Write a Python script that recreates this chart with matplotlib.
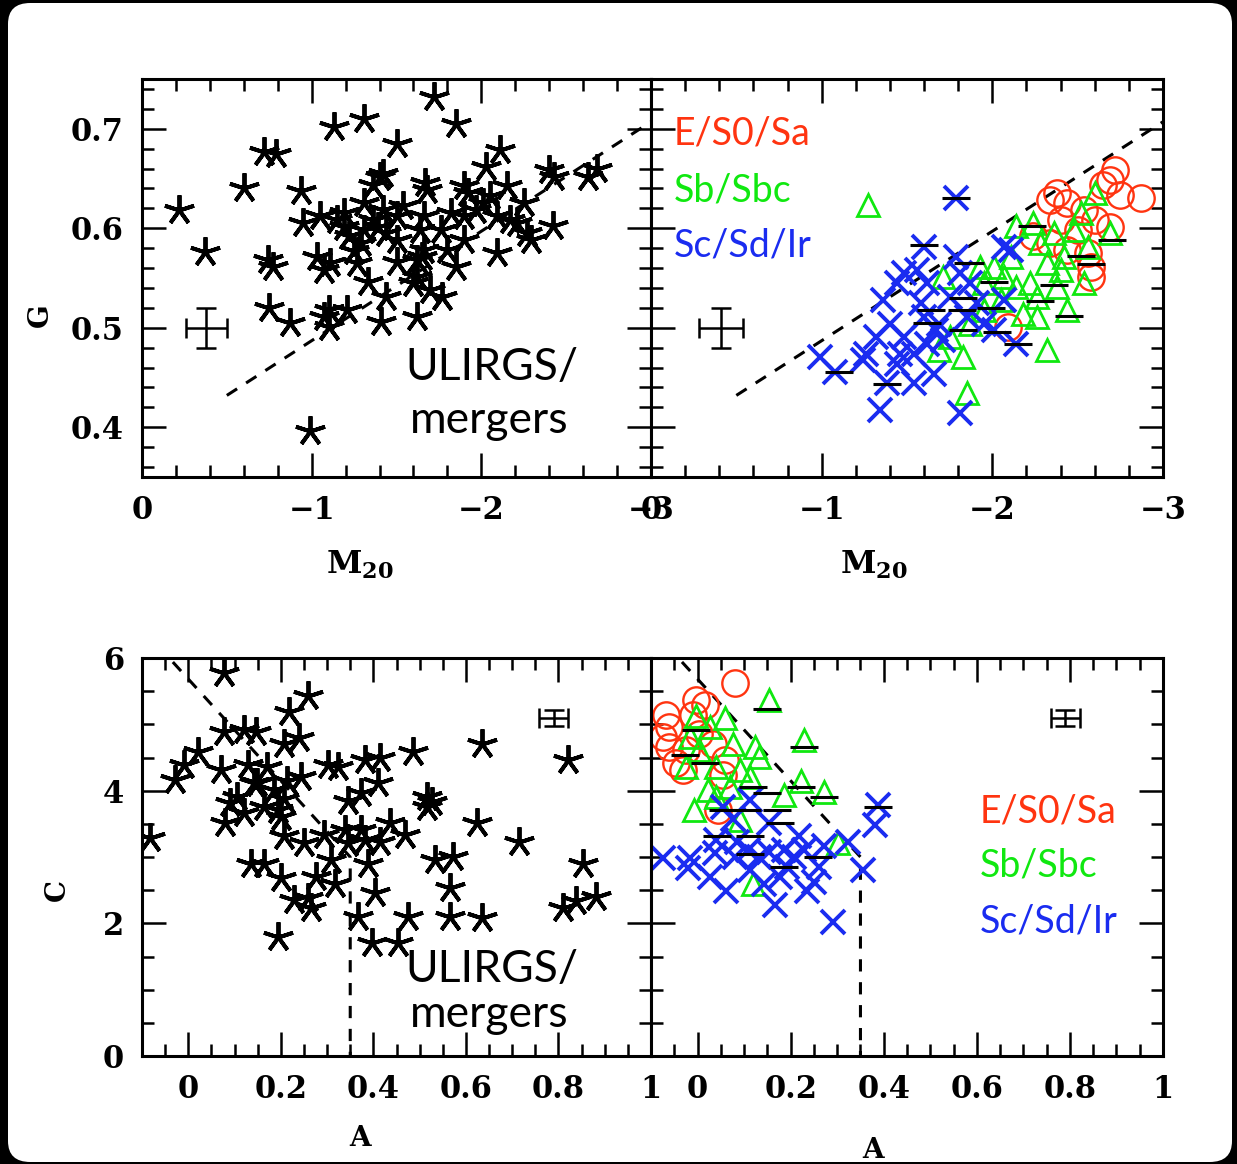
import numpy as np
import matplotlib.pyplot as plt
from matplotlib.ticker import MultipleLocator
from matplotlib.patches import FancyBboxPatch

plt.rcParams['mathtext.fontset'] = 'dejavuserif'

W, H = 1237, 1164

# ---- G vs M20, ULIRGs / mergers (left top)
ulirg_m20 = [-1.72, -1.13, -1.31, -1.85, -1.50, -0.72, -0.79, -2.11, -0.60, -0.22,
             -0.94, -0.37, -0.74, -0.77, -0.75, -0.87, -0.99, -1.10, -1.10, -1.21,
             -1.07, -1.41, -1.62, -1.44, -1.33, -1.77, -1.70, -1.62, -1.85, -1.65,
             -1.66, -1.50, -1.11, -1.03, -0.95, -1.05, -1.19, -1.19, -1.22, -1.29,
             -1.25, -1.36, -1.39, -1.44, -1.50, -1.42, -1.36, -1.42, -1.40, -1.67,
             -1.68, -1.66, -1.64, -1.76, -1.82, -1.90, -1.92, -1.90, -2.01, -2.03,
             -2.09, -2.09, -2.15, -2.17, -2.25, -2.27, -2.29, -2.42, -2.40, -2.43,
             -2.63, -2.68, -1.54, -1.31, -1.07, -1.97, -2.21, -1.80, -1.62, -1.60,
             -1.15, -1.31, -1.90, -1.50, -1.27, -2.05]
ulirg_g = [0.732, 0.702, 0.710, 0.705, 0.685, 0.677, 0.675, 0.679, 0.640, 0.618,
           0.637, 0.576, 0.568, 0.561, 0.520, 0.505, 0.396, 0.518, 0.501, 0.518,
           0.511, 0.506, 0.511, 0.531, 0.546, 0.531, 0.538, 0.551, 0.561, 0.571,
           0.578, 0.566, 0.565, 0.571, 0.605, 0.612, 0.615, 0.601, 0.592, 0.585,
           0.577, 0.608, 0.601, 0.595, 0.588, 0.618, 0.643, 0.655, 0.652, 0.645,
           0.638, 0.612, 0.598, 0.598, 0.615, 0.642, 0.635, 0.588, 0.625, 0.662,
           0.575, 0.612, 0.642, 0.608, 0.625, 0.595, 0.588, 0.602, 0.659, 0.652,
           0.652, 0.660, 0.622, 0.598, 0.558, 0.618, 0.605, 0.578, 0.568, 0.545,
           0.608, 0.625, 0.612, 0.612, 0.565, 0.632]

# ---- G vs M20, local galaxies (right top)
early_m20 = [-2.75, -2.87, -2.69, -2.72, -2.65, -2.38, -2.34, -2.44, -2.54, -2.60,
             -2.69, -2.56, -2.58, -2.58, -2.34, -2.44, -2.09, -2.24, -2.50, -2.40]
early_g = [0.633, 0.630, 0.648, 0.659, 0.643, 0.635, 0.628, 0.625, 0.618, 0.608,
           0.601, 0.575, 0.561, 0.551, 0.585, 0.578, 0.501, 0.592, 0.598, 0.608]
mid_m20 = [-1.27, -2.60, -2.69, -2.32, -1.85, -1.83, -2.44, -2.26, -2.18, -2.05,
           -1.95, -2.01, -2.11, -2.14, -2.24, -2.28, -2.32, -2.40, -2.48, -2.52,
           -2.56, -2.38, -2.22, -2.26, -2.07, -1.95, -1.87, -1.75, -1.71, -1.69,
           -2.42, -2.54, -2.14, -2.36, -1.93]
mid_g = [0.623, 0.635, 0.595, 0.478, 0.434, 0.471, 0.518, 0.511, 0.514, 0.528,
         0.545, 0.561, 0.571, 0.602, 0.605, 0.585, 0.565, 0.558, 0.598, 0.615,
         0.581, 0.541, 0.545, 0.531, 0.551, 0.518, 0.504, 0.491, 0.551, 0.478,
         0.571, 0.545, 0.541, 0.595, 0.561]
late_m20 = [-1.79, -1.60, -0.99, -1.08, -1.34, -1.81, -1.38, -1.54, -1.66, -1.24,
            -1.46, -1.48, -1.40, -1.36, -1.44, -1.48, -1.56, -1.62, -1.58, -1.60,
            -1.69, -1.71, -1.75, -1.81, -1.79, -1.87, -1.91, -1.95, -1.85, -2.07,
            -2.07, -2.11, -2.14, -1.54, -1.44, -1.67, -1.62, -2.01, -1.32, -1.26]
late_g = [0.630, 0.581, 0.471, 0.456, 0.417, 0.414, 0.444, 0.444, 0.454, 0.468,
          0.474, 0.491, 0.504, 0.528, 0.545, 0.555, 0.558, 0.545, 0.525, 0.511,
          0.504, 0.488, 0.531, 0.555, 0.571, 0.545, 0.525, 0.504, 0.511, 0.528,
          0.581, 0.578, 0.484, 0.474, 0.464, 0.498, 0.484, 0.498, 0.491, 0.474]
bar_m20 = [-1.79, -1.60, -1.86, -2.23, -2.70, -2.52, -2.58, -2.36, -2.28, -2.45,
           -2.15, -2.03, -2.01, -1.83, -1.82, -1.99, -1.64, -1.62, -1.83, -1.10,
           -1.38, -1.87]
bar_g = [0.630, 0.583, 0.565, 0.602, 0.588, 0.572, 0.564, 0.543, 0.527, 0.512,
         0.484, 0.496, 0.546, 0.530, 0.518, 0.520, 0.518, 0.505, 0.498, 0.456,
         0.443, 0.565]

# ---- C vs A, ULIRGs / mergers (left bottom)
ulirg_a = [0.077, 0.258, 0.218, 0.077, 0.120, 0.146, 0.207, 0.240, 0.022, -0.010,
           -0.028, -0.083, 0.070, 0.128, 0.171, 0.149, 0.106, 0.080, 0.120, 0.193,
           0.186, 0.214, 0.243, 0.301, 0.323, 0.381, 0.414, 0.486, 0.635, 0.820,
           0.345, 0.374, 0.410, 0.515, 0.526, 0.515, 0.624, 0.714, 0.207, 0.251,
           0.294, 0.338, 0.374, 0.381, 0.436, 0.468, 0.414, 0.388, 0.309, 0.135,
           0.164, 0.200, 0.276, 0.317, 0.229, 0.258, 0.265, 0.403, 0.367, 0.475,
           0.566, 0.635, 0.396, 0.454, 0.193, 0.533, 0.573, 0.566, 0.852, 0.809,
           0.838, 0.881, 0.091, 0.164, 0.200, 0.345, 0.207, 0.142]
ulirg_c = [5.77, 5.42, 5.19, 4.89, 4.91, 4.89, 4.71, 4.79, 4.59, 4.39,
           4.16, 3.28, 4.31, 4.39, 4.36, 4.11, 3.91, 3.51, 3.66, 3.71,
           4.01, 4.14, 4.21, 4.39, 4.36, 4.46, 4.49, 4.59, 4.71, 4.46,
           3.84, 3.96, 4.11, 3.91, 3.83, 3.76, 3.51, 3.23, 3.31, 3.21,
           3.33, 3.41, 3.41, 3.26, 3.51, 3.33, 3.23, 2.90, 2.95, 2.90,
           2.90, 2.68, 2.70, 2.60, 2.35, 2.38, 2.23, 2.45, 2.10, 2.10,
           2.10, 2.08, 1.70, 1.70, 1.80, 2.95, 3.00, 2.53, 2.90, 2.23,
           2.33, 2.40, 3.81, 3.76, 3.61, 3.21, 3.88, 4.11]

# ---- C vs A, local galaxies (right bottom)
early_a = [0.080, -0.068, -0.003, 0.015, -0.061, -0.046, -0.025, -0.075, -0.032, 0.059,
           0.044, 0.033, 0.004, -0.061, -0.010, 0.055]
early_c = [5.62, 5.14, 5.37, 5.29, 4.66, 4.41, 4.61, 4.81, 4.31, 4.46,
           3.71, 4.71, 4.86, 4.96, 5.14, 4.24]
mid_a = [0.153, 0.229, 0.059, -0.003, 0.124, 0.131, 0.222, 0.272, 0.113, 0.120,
         0.186, 0.301, -0.007, 0.070, 0.022, -0.025, 0.040, 0.004, 0.077, 0.026,
         0.091, -0.017, 0.040, 0.091]
mid_c = [5.37, 4.76, 5.09, 5.12, 4.66, 4.51, 4.14, 3.98, 4.21, 2.60,
         3.93, 3.21, 3.71, 4.06, 4.01, 4.36, 4.36, 4.61, 4.71, 4.96,
         3.56, 4.81, 3.91, 4.31]
late_a = [0.388, 0.381, 0.356, 0.291, 0.323, -0.075, -0.021, -0.017, 0.037, 0.026,
          0.062, 0.167, 0.236, 0.251, 0.272, 0.229, 0.207, 0.186, 0.153, 0.131,
          0.109, 0.080, 0.055, 0.077, 0.113, 0.153, 0.113, 0.178, 0.142, 0.084,
          0.040, 0.218, 0.193, 0.262]
late_c = [3.78, 3.48, 2.80, 2.02, 3.23, 2.98, 2.83, 2.98, 3.06, 2.70,
          2.48, 2.28, 2.48, 2.63, 3.16, 3.11, 3.00, 3.11, 3.08, 3.00,
          3.11, 3.00, 3.76, 3.58, 3.86, 3.51, 2.80, 2.70, 2.60, 3.23,
          3.26, 3.31, 2.85, 2.85]
bar_a = [0.149, 0.229, -0.003, -0.028, 0.015, 0.055, 0.120, 0.106, 0.171, 0.178,
         0.272, 0.222, 0.388, 0.041, 0.113, 0.149, 0.258, 0.186, 0.113]
bar_c = [5.23, 4.66, 4.91, 4.54, 4.41, 3.71, 4.06, 3.71, 3.71, 3.51,
         3.91, 4.05, 3.76, 3.31, 3.31, 3.96, 3.00, 2.85, 3.05]

# merger boundaries
gm_line_m20 = [-0.5, -3.0]
gm_line_g = [0.432, 0.707]
ca_line_a = [-0.1, 0.35, 0.35]
ca_line_c = [6.45, 3.0, 0.0]

# typical error bars
gm_err = dict(x=-0.38, y=0.50, xerr=0.123, yerr=0.02)
gm_err2 = dict(x=-0.41, y=0.50, xerr=0.127, yerr=0.02)
ca_err = dict(x=0.79, y=5.09, xerr=0.031, yerr=0.12)

RED = '#ff3410'
GREEN = '#10e810'
BLUE = '#1a2cf0'

fig = plt.figure(figsize=(W / 100, H / 100), dpi=100)
fig.patch.set_facecolor('black')
fig.patches.append(FancyBboxPatch((8 / W, 2 / H), (W - 13) / W, (H - 5) / H,
                                  boxstyle='round,pad=0,rounding_size=0.018',
                                  transform=fig.transFigure, fc='white', ec='none',
                                  zorder=-10))


def px_axes(x0, y0, x1, y1):
    return fig.add_axes([x0 / W, 1 - y1 / H, (x1 - x0) / W, (y1 - y0) / H])


ax1 = px_axes(142, 79, 651, 477)
ax2 = px_axes(651, 79, 1163, 477)
ax3 = px_axes(142, 658, 651, 1056)
ax4 = px_axes(651, 658, 1163, 1056)

tickfont = dict(family='DejaVu Serif', weight='bold', size=22)

for ax in (ax1, ax2, ax3, ax4):
    for s in ax.spines.values():
        s.set_linewidth(2.2)
    ax.tick_params(which='both', direction='in', top=True, right=True, width=1.8)
    ax.tick_params(which='major', length=17, pad=13)
    ax.tick_params(which='minor', length=8.5)

for ax in (ax1, ax2):
    ax.set_xlim(0, -3)
    ax.set_ylim(0.35, 0.75)
    ax.xaxis.set_major_locator(MultipleLocator(1))
    ax.xaxis.set_minor_locator(MultipleLocator(0.2))
    ax.yaxis.set_major_locator(MultipleLocator(0.1))
    ax.yaxis.set_minor_locator(MultipleLocator(0.02))
    ax.set_xticks([0, -1, -2, -3])
    ax.set_xticklabels(['0', '\u22121', '\u22122', '\u22123'], **tickfont)
    ax.plot(gm_line_m20, gm_line_g, color='black', lw=2.2, dashes=(4, 3.5), zorder=1)

for ax in (ax3, ax4):
    ax.set_xlim(-0.1, 1.0)
    ax.set_ylim(0, 6)
    ax.xaxis.set_minor_locator(MultipleLocator(0.05))
    ax.yaxis.set_major_locator(MultipleLocator(2))
    ax.yaxis.set_minor_locator(MultipleLocator(0.5))
    ax.set_xticks([0, 0.2, 0.4, 0.6, 0.8, 1.0])
    ax.set_xticklabels(['0', '0.2', '0.4', '0.6', '0.8', '1'], **tickfont)
    ax.plot(ca_line_a, ca_line_c, color='black', lw=2.2, dashes=(4, 3.5), zorder=1)

ax1.set_yticks([0.4, 0.5, 0.6, 0.7])
ax1.set_yticklabels(['0.4', '0.5', '0.6', '0.7'], **tickfont)
ax3.set_yticks([0, 2, 4, 6])
ax3.set_yticklabels(['0', '2', '4', '6'], **tickfont)
ax2.tick_params(labelleft=False)
ax4.tick_params(labelleft=False)

star = dict(ls='none', marker=(5, 2, 0), ms=22, mew=2.8, color='black')
ax1.plot(ulirg_m20, ulirg_g, **star)
ax3.plot(ulirg_a, ulirg_c, **star)

ax2.plot(early_m20, early_g, ls='none', marker='o', ms=19, mfc='none', mec=RED, mew=1.7)
ax2.plot(mid_m20, mid_g, ls='none', marker='^', ms=16, mfc='none', mec=GREEN, mew=2.0)
ax2.plot(late_m20, late_g, ls='none', marker='x', ms=17, mec=BLUE, mew=2.8)
ax2.plot(bar_m20, bar_g, ls='none', marker='_', ms=20, mec='black', mew=2.2)

ax4.plot(early_a, early_c, ls='none', marker='o', ms=19, mfc='none', mec=RED, mew=1.7)
ax4.plot(mid_a, mid_c, ls='none', marker='^', ms=16, mfc='none', mec=GREEN, mew=2.0)
ax4.plot(late_a, late_c, ls='none', marker='x', ms=17, mec=BLUE, mew=2.8)
ax4.plot(bar_a, bar_c, ls='none', marker='_', ms=20, mec='black', mew=2.2)

eb = dict(color='black', lw=1.8, capsize=7, capthick=1.8)
ax1.errorbar(**gm_err, **eb)
ax2.errorbar(**gm_err2, **eb)
ax3.errorbar(**ca_err, **eb)
ax4.errorbar(**ca_err, **eb)


def ftext(x, y, s, **kw):
    fig.text(x / W, 1 - y / H, s, **kw)


labfont = dict(family='DejaVu Serif', weight='bold', size=20)
ftext(40, 315, 'G', rotation=90, ha='center', va='center', **labfont)
ftext(57, 890, 'C', rotation=90, ha='center', va='center', **labfont)
ftext(360, 565, r'$\mathbf{M}_{\mathbf{20}}$', ha='center', va='center', size=23)
ftext(874, 565, r'$\mathbf{M}_{\mathbf{20}}$', ha='center', va='center', size=23)
ftext(360, 1138, 'A', ha='center', va='center', **labfont)
ftext(873, 1150, 'A', ha='center', va='center', **labfont)

big = dict(family='Lato', size=32, color='black', ha='left', va='baseline')
ftext(405, 380, 'ULIRGS/', **big)
ftext(410, 433, 'mergers', **big)
ftext(405, 982, 'ULIRGS/', **big)
ftext(410, 1027, 'mergers', **big)

cl = dict(family='Lato', size=27, ha='left', va='baseline')
ftext(674, 145, 'E/S0/Sa', color=RED, **cl)
ftext(674, 201, 'Sb/Sbc', color=GREEN, **cl)
ftext(674, 257, 'Sc/Sd/Ir', color=BLUE, **cl)
ftext(980, 823, 'E/S0/Sa', color=RED, **cl)
ftext(980, 877, 'Sb/Sbc', color=GREEN, **cl)
ftext(980, 932, 'Sc/Sd/Ir', color=BLUE, **cl)

fig.savefig('out.png', dpi=100)
